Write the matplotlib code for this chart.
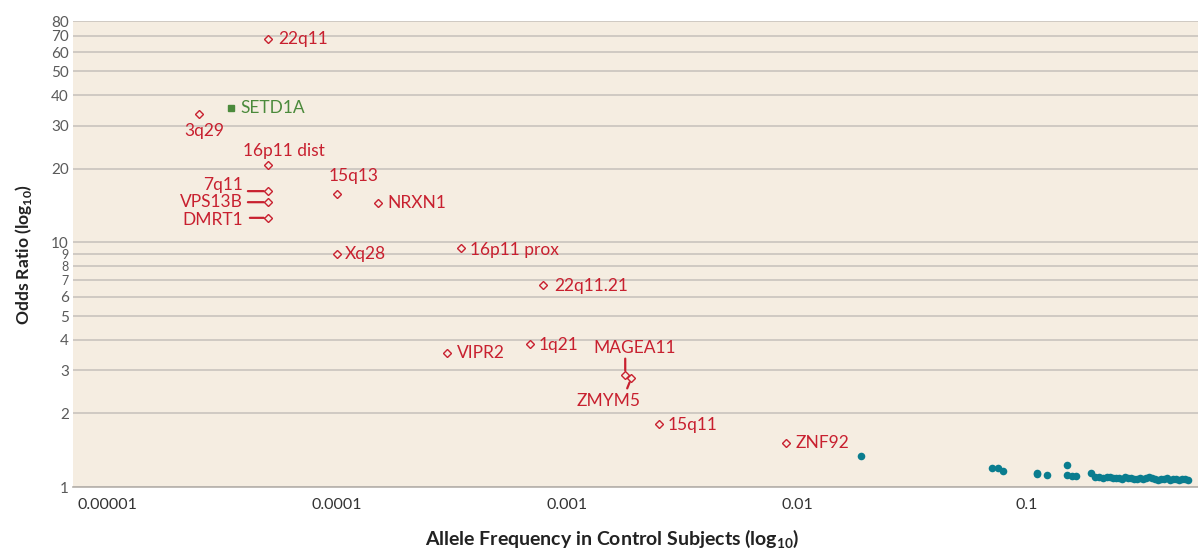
import matplotlib
matplotlib.use('Agg')
import matplotlib.pyplot as plt
from matplotlib.ticker import FixedLocator, NullLocator, FixedFormatter

plt.rcParams['font.family'] = ['Lato', 'DejaVu Sans']
plt.rcParams['mathtext.fontset'] = 'custom'
plt.rcParams['mathtext.rm'] = 'Lato'
plt.rcParams['mathtext.bf'] = 'Lato:bold'

# rare variants (copy number variants and genes), red diamonds
cnv_names = ['22q11', '3q29', '16p11 dist', '7q11', 'VPS13B', 'DMRT1', '15q13',
             'NRXN1', 'Xq28', '16p11 prox', '22q11.21', 'VIPR2', '1q21',
             'MAGEA11', 'ZMYM5', '15q11', 'ZNF92']
cnv_freq = [5.0e-5, 2.5e-5, 5.0e-5, 5.0e-5, 5.0e-5, 5.0e-5, 1.0e-4,
            1.5e-4, 1.0e-4, 3.46e-4, 7.87e-4, 3.0e-4, 6.9e-4,
            1.79e-3, 1.90e-3, 2.5e-3, 8.93e-3]
cnv_or = [67.9, 33.5, 20.7, 16.2, 14.6, 12.6, 15.8,
          14.5, 8.96, 9.48, 6.69, 3.52, 3.84,
          2.88, 2.78, 1.81, 1.51]

# label offsets in pixels (dx, dy, ha, va)
label_pos = {
    '22q11': (10, 0, 'left', 'center'),
    '3q29': (6, -17, 'center', 'center'),
    '16p11 dist': (16, 14, 'center', 'center'),
    '7q11': (-25, 6, 'right', 'center'),
    'VPS13B': (-25, 0, 'right', 'center'),
    'DMRT1': (-25, -2, 'right', 'center'),
    '15q13': (17, 18, 'center', 'center'),
    'NRXN1': (10, 0, 'left', 'center'),
    'Xq28': (8, 0, 'left', 'center'),
    '16p11 prox': (9, -2, 'left', 'center'),
    '22q11.21': (11, -1, 'left', 'center'),
    'VIPR2': (10, 0, 'left', 'center'),
    '1q21': (9, -1, 'left', 'center'),
    'MAGEA11': (9, 27, 'center', 'center'),
    'ZMYM5': (-23, -23, 'center', 'center'),
    '15q11': (9, -1, 'left', 'center'),
    'ZNF92': (10, 0, 'left', 'center'),
}
# leader lines: start offset in pixels from the marker
leaders = {
    '7q11': (-20, 0),
    'VPS13B': (-20, 0),
    'DMRT1': (-18, 0),
    'MAGEA11': (0, 16),
    'ZMYM5': (-4, -10),
}

setd1a_freq = 3.46e-5
setd1a_or = 35.4

# common variants, teal dots
common_freq = [0.0190, 0.0702, 0.0750, 0.0789, 0.1105, 0.1105, 0.1225, 0.1488, 0.1488,
               0.1564, 0.1633, 0.1898, 0.1975, 0.2056, 0.2140, 0.2228, 0.2296, 0.2366,
               0.2438, 0.2512, 0.2588, 0.2667, 0.2748, 0.2833, 0.2919, 0.3008, 0.3099,
               0.3193, 0.3291, 0.3391, 0.3494, 0.3600, 0.3710, 0.3823, 0.3939, 0.4059,
               0.4182, 0.4310, 0.4441, 0.4576, 0.4716, 0.4859, 0.5012]
common_or = [1.335, 1.196, 1.200, 1.163, 1.141, 1.127, 1.124, 1.230, 1.117,
             1.110, 1.106, 1.141, 1.100, 1.096, 1.090, 1.100, 1.096, 1.085,
             1.092, 1.090, 1.080, 1.096, 1.085, 1.090, 1.080, 1.075, 1.085,
             1.076, 1.092, 1.096, 1.085, 1.075, 1.070, 1.080, 1.075, 1.085,
             1.070, 1.075, 1.080, 1.070, 1.075, 1.075, 1.070]

yticks = [1, 2, 3, 4, 5, 6, 7, 8, 9, 10, 20, 30, 40, 50, 60, 70, 80]
xticks = [1e-5, 1e-4, 1e-3, 1e-2, 1e-1]
xtick_labels = ['0.00001', '0.0001', '0.001', '0.01', '0.1']

red = '#c8202f'
green = '#4b8a3b'
teal = '#0a7d8f'
bg = '#f5ede1'
gridc = '#c9c4be'

fig = plt.figure(figsize=(11.98, 5.48), dpi=100)
ax = fig.add_axes([0.061, 0.1113, 0.939, 0.8495])
ax.set_facecolor(bg)
ax.set_xscale('log')
ax.set_yscale('log')
ax.set_xlim(7.11e-6, 0.554)
ax.set_ylim(1, 80)

ax.yaxis.set_major_locator(FixedLocator(yticks))
ax.yaxis.set_minor_locator(NullLocator())
ax.yaxis.set_major_formatter(FixedFormatter([str(v) for v in yticks]))
ax.xaxis.set_major_locator(FixedLocator(xticks))
ax.xaxis.set_minor_locator(NullLocator())
ax.xaxis.set_major_formatter(FixedFormatter(xtick_labels))
ax.tick_params(axis='y', length=0, pad=3, labelsize=11, labelcolor='#5a5a5a')
ax.tick_params(axis='x', length=0, pad=8, labelsize=11.5, labelcolor='#333333')
for lbl in ax.get_yticklabels():
    if lbl.get_text() in ('7', '8', '9'):
        lbl.set_fontsize(9)
ax.grid(True, axis='y', color=gridc, lw=1.2)
ax.set_axisbelow(True)
for s in ['top', 'left', 'right']:
    ax.spines[s].set_visible(False)
ax.spines['bottom'].set_color('#b5b0aa')
ax.spines['bottom'].set_linewidth(1.2)

ax.scatter(common_freq, common_or, s=30, color=teal, zorder=3, linewidths=0)
ax.plot(cnv_freq, cnv_or, 'D', ms=4, mfc=bg, mec=red, mew=1.0, ls='none', zorder=4)
ax.plot([setd1a_freq], [setd1a_or], 's', ms=5, color=green, zorder=4)
ax.annotate('SETD1A', (setd1a_freq, setd1a_or), xytext=(9, 0),
            textcoords='offset pixels', ha='left', va='center',
            fontsize=12.5, color=green)

for name, f, o in zip(cnv_names, cnv_freq, cnv_or):
    dx, dy, ha, va = label_pos[name]
    ax.annotate(name, (f, o), xytext=(dx, dy), textcoords='offset pixels',
                ha=ha, va=va, fontsize=12.5, color=red, zorder=5)
    if name in leaders:
        lx, ly = leaders[name]
        ax.annotate('', (f, o), xytext=(lx, ly), textcoords='offset pixels',
                    arrowprops=dict(arrowstyle='-', color=red, lw=1.6,
                                    shrinkA=0, shrinkB=3), zorder=5)

ax.set_ylabel(r'Odds Ratio (log$_{\mathbf{10}}$)', fontsize=12.6,
              fontweight='bold', color='#222222', labelpad=12)
ax.set_xlabel(r'Allele Frequency in Control Subjects (log$_{\mathbf{10}}$)',
              fontsize=14, fontweight='bold', color='#222222')
ax.xaxis.set_label_coords(0.479, -0.086)

fig.savefig('out.png', dpi=100)
